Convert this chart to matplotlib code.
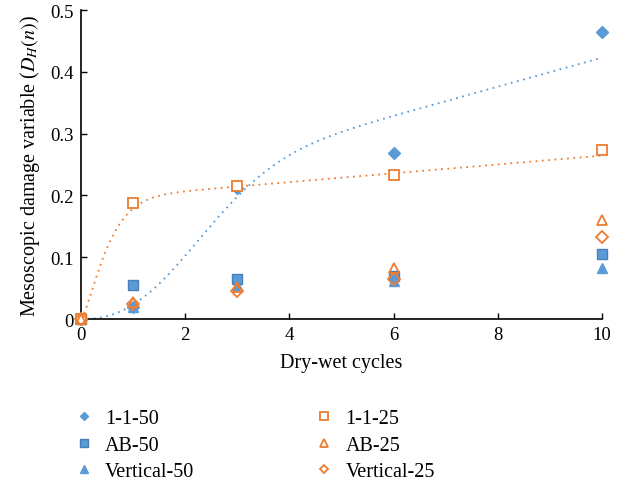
import matplotlib
matplotlib.use("Agg")
import matplotlib.pyplot as plt
import numpy as np

plt.rcParams["font.family"] = ["Liberation Serif", "DejaVu Serif"]
plt.rcParams["mathtext.fontset"] = "stix"

# dry-wet cycle counts and damage values per specimen group
cycles = [0, 1, 3, 6, 10]
d_11_50 = [0, 0.020, 0.212, 0.268, 0.465]
d_ab_50 = [0, 0.055, 0.065, 0.070, 0.106]
d_vert_50 = [0, 0.020, 0.055, 0.062, 0.083]
d_11_25 = [0, 0.187, 0.216, 0.233, 0.274]
d_ab_25 = [0, 0.028, 0.052, 0.083, 0.160]
d_vert_25 = [0, 0.025, 0.045, 0.065, 0.132]

# trend curve parameters (a, d, tau, k) for the 1-1 groups
trend_11_50 = (0.188, 0.125, 2.55, 2.3)
trend_11_25 = (0.193, 0.037, 0.55, 1.35)

blue = "#5B9BD5"
blue_edge = "#4A7EBB"
orange = "#ED7D31"


def trend(x, a, d, tau, k):
    # saturating rise times a slow linear growth
    return a * (1 + d * x) * (1 - np.exp(-(x / tau) ** k))


fig = plt.figure(figsize=(6.31, 4.85), dpi=100)
ax = fig.add_axes([0.1284, 0.3402, 0.8257, 0.637])

xs = np.linspace(0, 10, 300)
ax.plot(xs, trend(xs, *trend_11_50), color=blue, lw=1.3, ls=(0, (1, 2.5)))
ax.plot(xs, trend(xs, *trend_11_25), color=orange, lw=1.3, ls=(0, (1, 2.5)))

ms = 7
ax.plot(cycles, d_11_50, ls="none", marker="D", ms=ms * 0.85, color=blue,
        mec=blue, label="1-1-50", clip_on=False, zorder=3)
ax.plot(cycles, d_ab_50, ls="none", marker="s", ms=ms * 1.05, color=blue,
        mec=blue_edge, label="AB-50", clip_on=False, zorder=3)
ax.plot(cycles, d_vert_50, ls="none", marker="^", ms=ms * 1.05, color=blue,
        mec=blue, label="Vertical-50", clip_on=False, zorder=3)
ax.plot(cycles, d_11_25, ls="none", marker="s", ms=ms * 1.05, mfc="white",
        mec=orange, mew=1.3, label="1-1-25", clip_on=False, zorder=3)
ax.plot(cycles, d_ab_25, ls="none", marker="^", ms=ms * 1.05, mfc="none",
        mec=orange, mew=1.3, label="AB-25", clip_on=False, zorder=4)
ax.plot(cycles, d_vert_25, ls="none", marker="D", ms=ms * 0.85, mfc="none",
        mec=orange, mew=1.3, label="Vertical-25", clip_on=False, zorder=4)

ax.set_xlim(0, 10)
ax.set_ylim(0, 0.5)
ax.set_xticks([0, 2, 4, 6, 8, 10])
ax.set_yticks([0, 0.1, 0.2, 0.3, 0.4, 0.5])
ax.set_yticklabels(["0", "0.1", "0.2", "0.3", "0.4", "0.5"])
ax.tick_params(direction="in", length=4, width=1, labelsize=13.5, pad=5)
for side in ["top", "right"]:
    ax.spines[side].set_visible(False)
for side in ["left", "bottom"]:
    ax.spines[side].set_linewidth(1.2)

ax.set_xlabel("Dry-wet cycles", fontsize=14.5, labelpad=7)
ax.set_ylabel(r"Mesoscopic damage variable ($D_H(n)$)", fontsize=14.5, labelpad=6)

# legend in two columns underneath the axes
fig.legend(loc="upper left", bbox_to_anchor=(0.117, 0.154),
           ncol=2, frameon=False, borderpad=0, borderaxespad=0,
           fontsize=14.5, markerscale=0.75, handlelength=1.0,
           handletextpad=0.55, columnspacing=5.95, labelspacing=0.35)

fig.savefig("out.png", dpi=100)
